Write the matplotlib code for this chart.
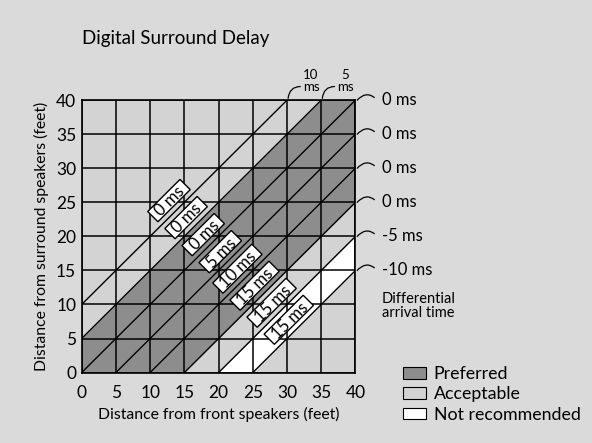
import numpy as np
import matplotlib
matplotlib.use('Agg')
import matplotlib.pyplot as plt
from matplotlib.path import Path
from matplotlib.patches import PathPatch, Patch, Rectangle

plt.rcParams['font.family'] = ['Lato', 'DejaVu Sans']

# data
ticks = [0, 5, 10, 15, 20, 25, 30, 35, 40]
band_edges = [-10, -5, 0, 5, 10, 15, 20, 25]          # front - surround (feet)
band_class = ['Acceptable', 'Preferred', 'Preferred', 'Preferred',
              'Preferred', 'Acceptable', 'Not recommended']
delay_d = [-12.5, -7.5, -2.5, 2.5, 7.5, 12.5, 17.5, 22.5]
delay_labels = ['0 ms', '0 ms', '0 ms', '5 ms', '10 ms', '15 ms', '15 ms', '15 ms']
edge_y = [40, 35, 30, 25, 20, 15]
edge_ms = ['0 ms', '0 ms', '0 ms', '0 ms', '-5 ms', '-10 ms']
top_x = [30, 35]
top_ms = ['10\nms', '5\nms']

colors = {'Preferred': '#8d8d8d', 'Acceptable': '#d3d3d3', 'Not recommended': '#ffffff'}
bg = '#dadada'

fig = plt.figure(figsize=(5.92, 4.43), dpi=100, facecolor=bg)
ax = fig.add_axes([0.138, 0.159, 0.4625, 0.615])
ax.set_facecolor(colors['Acceptable'])
ax.set_xlim(0, 40)
ax.set_ylim(0, 40)

# bands between the diagonals
xs = np.array(ticks, dtype=float)
for lo, hi, cls in zip(band_edges[:-1], band_edges[1:], band_class):
    y_lo = np.clip(xs - hi, 0, 40)
    y_hi = np.clip(xs - lo, 0, 40)
    ax.fill_between(xs, y_lo, y_hi, color=colors[cls], lw=0, zorder=1)

# grid
for t in ticks:
    ax.axvline(t, color='black', lw=1.1, zorder=2)
    ax.axhline(t, color='black', lw=1.1, zorder=2)

# diagonals
for d in band_edges:
    x0, x1 = max(0, d), min(40, 40 + d)
    ax.plot([x0, x1], [x0 - d, x1 - d], color='black', lw=1.0, zorder=3)

for s in ax.spines.values():
    s.set_linewidth(1.2)

ax.set_xticks(ticks)
ax.set_yticks(ticks)
ax.tick_params(length=0, labelsize=12.5)
ax.tick_params(axis='x', pad=9)
ax.tick_params(axis='y', pad=4)
ax.set_xlabel('Distance from front speakers (feet)', fontsize=11.3, labelpad=4)
ax.set_ylabel('Distance from surround speakers (feet)', fontsize=11.3, labelpad=5)

# delay labels in thin white boxes
renderer = fig.canvas.get_renderer()
ppu = ax.transData.transform((1, 0))[0] - ax.transData.transform((0, 0))[0]
for d, lab in zip(delay_d, delay_labels):
    cx, cy = (38 + d) / 2, (38 - d) / 2
    tmp = ax.text(0, 0, lab, fontsize=12)
    w_px = tmp.get_window_extent(renderer).width
    tmp.remove()
    L = (w_px + 11) / ppu
    H = 14.5 / ppu
    ax.add_patch(Rectangle((cx - L / 2, cy - H / 2), L, H, angle=45,
                           rotation_point='center', fc='white', ec='black',
                           lw=1.0, zorder=5))
    ax.text(cx, cy, lab, rotation=45, fontsize=12, ha='center', va='center_baseline',
            rotation_mode='anchor', zorder=6)

# right side arrival times
for y, lab in zip(edge_y, edge_ms):
    p = Path([(40.2, y - 0.05), (41.5, y + 1.4), (42.8, y + 0.35)],
             [Path.MOVETO, Path.CURVE3, Path.CURVE3])
    ax.add_patch(PathPatch(p, fc='none', ec='black', lw=0.9, clip_on=False))
    ax.text(43.8, y, lab, fontsize=12, ha='left', va='center')
ax.text(43.8, 9.8, 'Differential\narrival time', fontsize=10.5,
        ha='left', va='center', linespacing=1.0)

# top arrival times
for x, lab in zip(top_x, top_ms):
    p = Path([(x + 0.15, 40.2), (x + 0.3, 42.0), (x + 2.0, 42.0)],
             [Path.MOVETO, Path.CURVE3, Path.CURVE3])
    ax.add_patch(PathPatch(p, fc='none', ec='black', lw=0.9, clip_on=False))
    ax.text(x + 3.5, 42.8, lab, fontsize=9.5, ha='center', va='center', linespacing=0.95)

fig.text(0.139, 0.913, 'Digital Surround Delay', fontsize=13.5, ha='left', va='center')

handles = [Patch(fc=colors[c], ec='black', lw=0.8) for c in colors]
fig.legend(handles, list(colors), loc='upper left', bbox_to_anchor=(0.68, 0.174),
           frameon=False, fontsize=12.8, handlelength=1.3, handleheight=0.65,
           handletextpad=0.45, labelspacing=0.25, borderpad=0, borderaxespad=0)

fig.savefig('out.png', dpi=100, facecolor=bg)
